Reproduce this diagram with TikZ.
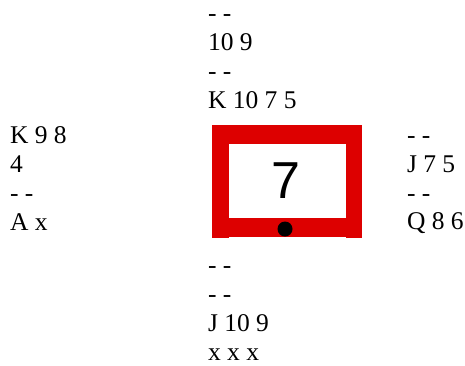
\documentclass[tikz,border=0pt]{standalone}
\usepackage{fontspec}
\setmainfont{Liberation Serif}
\newfontfamily\numfont{Liberation Sans}
\definecolor{framered}{RGB}{221,0,0}
\begin{document}
\begin{tikzpicture}[x=1pt,y=-1pt,
  hand/.style={anchor=base west,inner sep=0pt,outer sep=0pt,font=\fontsize{25.5}{29}\selectfont},
  frame/.style={fill=framered,draw=none},
  window/.style={fill=white,draw=none},
  dot/.style={fill=black,draw=none}]
\useasboundingbox (0,0) rectangle (465,365);
% North
\node[hand] (n1) at (208,21.5) {- -};
\node[hand] (n2) at (208,50.5) {10 9};
\node[hand] (n3) at (208,79.5) {- -};
\node[hand] (n4) at (208,108.5) {K 10 7 5};
% West
\node[hand] (w1) at (10,143) {K 9 8};
\node[hand] (w2) at (10,172) {4};
\node[hand] (w3) at (10,201) {- -};
\node[hand] (w4) at (10,230.5) {A x};
% East
\node[hand] (e1) at (407,143) {- -};
\node[hand] (e2) at (407,172) {J 7 5};
\node[hand] (e3) at (407,201) {- -};
\node[hand] (e4) at (407,229) {Q 8 6};
% South
\node[hand] (s1) at (208,273.5) {- -};
\node[hand] (s2) at (208,302.5) {- -};
\node[hand] (s3) at (208,331.5) {J 10 9};
\node[hand] (s4) at (208,360.5) {x x x};
% Table
\path[frame] (212,125) rectangle (362,238);
\path[window] (229,144) rectangle (346,218);
\path[window] (229,237) rectangle (346,238);
\node[inner sep=0pt,font=\numfont\fontsize{52}{60}\selectfont] (trick) at (286,181) {7};
\path[dot] (285,229) circle (7.5);
\end{tikzpicture}
\end{document}
